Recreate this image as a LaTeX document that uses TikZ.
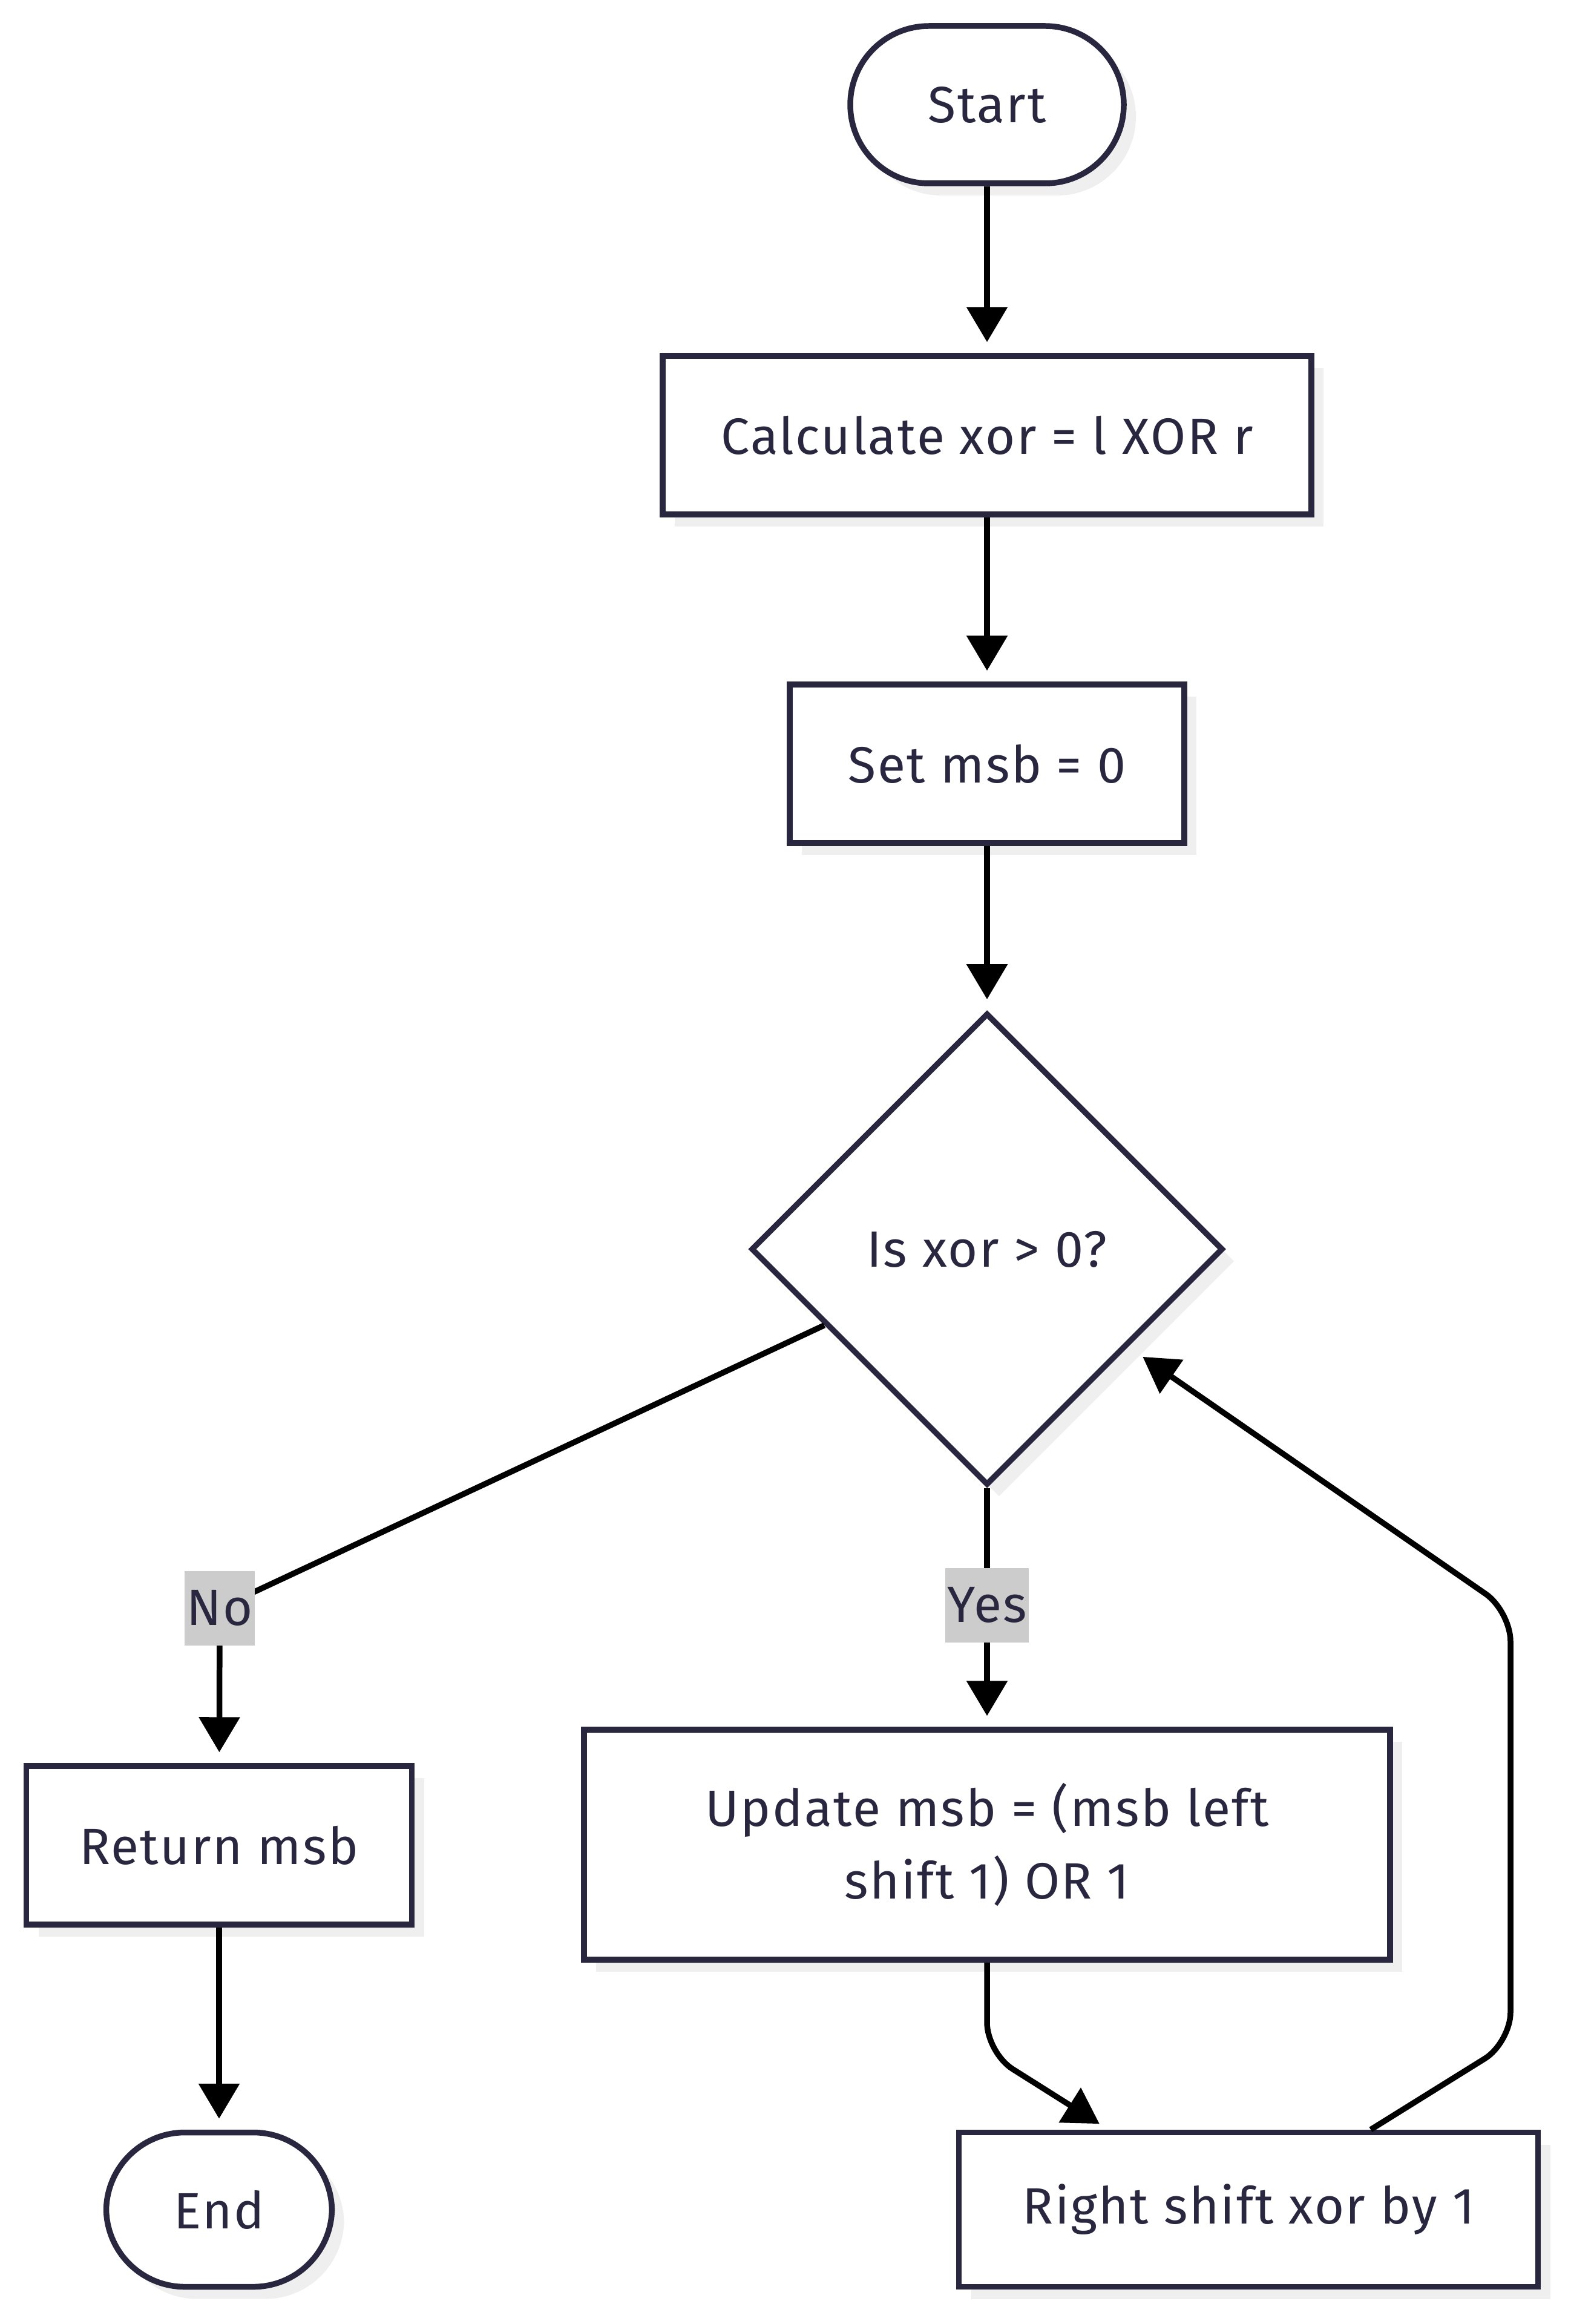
\documentclass[tikz,border=0pt]{standalone}
\usepackage{fontspec}
\setmainfont[LetterSpace=3]{Fira Sans}
\usetikzlibrary{shapes.geometric,arrows.meta,shadows}

\definecolor{inkline}{HTML}{28273F}
\definecolor{shadowgray}{HTML}{EFEFEF}
\definecolor{tagfill}{HTML}{CCCCCC}

\begin{document}
\begin{tikzpicture}[line width=2.7pt,
    every node/.style={font=\fontsize{24}{34}\selectfont,text=inkline},
    flowbox/.style={draw=inkline,fill=white,align=center,minimum height=2.62cm,
      drop shadow={shadow xshift=0.2cm,shadow yshift=-0.2cm,fill=shadowgray,opacity=1}},
    termbox/.style={flowbox,rounded corners=1.3cm,minimum height=2.6cm},
    decbox/.style={flowbox,shape=diamond,aspect=1,minimum size=7.8cm},
    tagbox/.style={fill=tagfill,inner xsep=1pt,minimum height=1.23cm},
    flowarrow/.style={draw=black,-{Triangle[length=0.58cm,width=0.66cm]},shorten >=0.18cm}]

      \useasboundingbox (0,0) rectangle (25.96,-38.40);

      \path (16.31,-1.73) node[termbox,minimum width=4.52cm] (start) {Start};
      \path (16.31,-7.19) node[flowbox,minimum width=10.72cm] (calc) {Calculate xor = l XOR r};
      \path (16.31,-12.62) node[flowbox,minimum width=6.52cm] (setmsb) {Set msb = 0};
      \path (16.31,-20.64) node[decbox] (dec) {Is xor > 0?};
      \path (3.62,-30.49) node[flowbox,minimum width=6.37cm] (ret) {Return msb};
      \path (16.31,-30.48) node[flowbox,minimum width=13.32cm,minimum height=3.8cm] (upd) {Update msb = (msb left\\ shift 1) OR 1};
      \path (3.62,-36.51) node[termbox,minimum width=3.73cm,minimum height=2.55cm] (end) {End};
      \path (20.63,-36.51) node[flowbox,minimum width=9.57cm,minimum height=2.55cm] (rshift) {Right shift xor by 1};

      \coordinate (nobend) at (3.63,-26.57);
      \coordinate (updbend) at (16.31,-33.92);
      \coordinate (loopbottom) at (24.96,-33.75);
      \coordinate (looptop) at (24.96,-26.62);

      \draw[flowarrow] (start) -- (calc);
      \draw[flowarrow] (calc) -- (setmsb);
      \draw[flowarrow] (setmsb) -- (dec);
      \draw[flowarrow] (dec) -- (nobend) -- (ret);
      \draw[flowarrow] (dec) -- (upd);
      \draw[flowarrow] (ret) -- (end);
      \draw[flowarrow,rounded corners=0.5cm] (upd) -- (updbend) -- ([xshift=-2.31cm]rshift.north);
      \draw[flowarrow,rounded corners=0.5cm,shorten >=0.29cm] ([xshift=2.02cm]rshift.north) -- (loopbottom) -- (looptop) -- (dec);

      \path (nobend) node[tagbox] (notag) {No};
      \path (16.31,-26.52) node[tagbox] (yestag) {Yes};
   \end{tikzpicture}
\end{document}
